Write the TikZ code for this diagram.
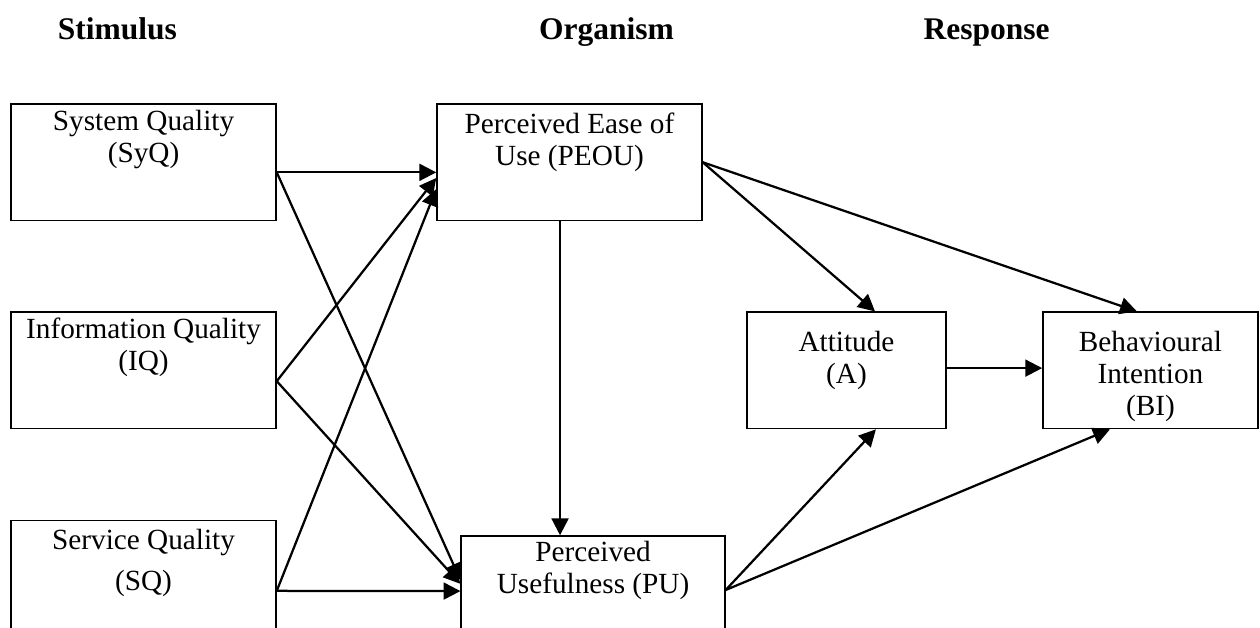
\documentclass[tikz,border=0pt]{standalone}
\usepackage{fontspec}
\setmainfont{Liberation Serif}
\usetikzlibrary{calc,positioning,arrows.meta}

\begin{document}
\begin{tikzpicture}[x=1pt,y=1pt,
    box/.style={draw=black, line width=0.6pt, minimum height=51.8pt, inner sep=0pt},
    boxtext/.style={align=center, inner sep=0pt, font=\fontsize{13}{14.3}\selectfont},
    head/.style={anchor=base, font=\fontsize{14}{16}\selectfont\bfseries},
    arr/.style={draw=black, line width=1pt, -{Triangle[length=7.5pt,width=7.5pt]}}]
            %刺激—有機體—反應 (S-O-R) 模型
            \useasboundingbox (0,0) rectangle (560,-279.1);

            \node[head] (StimHead) at (52.2,-17.5) {Stimulus};
            \node[head] (OrgHead) at (269.6,-17.5) {Organism};
            \node[head] (RespHead) at (438.5,-17.5) {Response};

            \node[box, minimum width=117.8pt] (SysQ) at (63.8,-72.1) {};
            \node[box, minimum width=117.8pt] (InfoQ) at (63.8,-164.6) {};
            \node[box, minimum width=117.8pt] (ServQ) at (63.8,-257.2) {};
            \node[box, minimum width=117.8pt] (EaseUse) at (253.1,-72.1) {};
            \node[box, minimum width=117.3pt] (Useful) at (263.6,-264.1) {};
            \node[box, minimum width=88.4pt] (Att) at (376.2,-164.6) {};
            \node[box, minimum width=95.6pt] (Intent) at (511.3,-164.6) {};

            \node[boxtext, below=2.7pt of SysQ.north] (SysQText) {System Quality\\(SyQ)};
            \node[boxtext, below=2.7pt of InfoQ.north] (InfoQText) {Information Quality\\(IQ)};
            \node[boxtext, below=3.8pt of ServQ.north] (ServQText) {Service Quality\\[4pt](SQ)};
            \node[boxtext, below=4pt of EaseUse.north] (EaseUseText) {Perceived Ease of\\Use (PEOU)};
            \node[boxtext, below=2.5pt of Useful.north] (UsefulText) {Perceived\\Usefulness (PU)};
            \node[boxtext, below=8.4pt of Att.north] (AttText) {Attitude\\(A)};
            \node[boxtext, below=8.4pt of Intent.north] (IntentText) {Behavioural\\Intention\\(BI)};

            \coordinate (SysQOut) at ($(SysQ.east)+(0,-4.5)$);
            \coordinate (InfoQOut) at ($(InfoQ.east)+(0,-4.8)$);
            \coordinate (ServQOut) at ($(ServQ.east)+(0,-5.4)$);
            \coordinate (UsefulOut) at ($(Useful.east)+(0,1.9)$);
            \coordinate (DownPt) at ($(EaseUse.south)+(-4.2,0)$);

            \draw[arr] (SysQOut) -- ($(EaseUse.west)+(0,-4.5)$);
            \draw[arr] (SysQOut) -- ($(Useful.west)+(0,6.3)$);
            \draw[arr] (InfoQOut) -- ($(EaseUse.west)+(0,-7)$);
            \draw[arr] (InfoQOut) -- ($(Useful.west)+(0,4.6)$);
            \draw[arr] (ServQOut) -- ($(EaseUse.west)+(0,-11.9)$);
            \draw[arr] (ServQOut) -- ($(Useful.west)+(0,1.4)$);

            \draw[arr] (DownPt) -- (DownPt |- Useful.north);
            \draw[arr] (EaseUse.east) -- ($(Att.north)+(12.7,0)$);
            \draw[arr] (EaseUse.east) -- ($(Intent.north)+(-6,0)$);
            \draw[arr] ($(Att.east)+(0,1)$) -- ($(Intent.west)+(0,1)$);
            \draw[arr] (UsefulOut) -- ($(Att.south)+(13.1,0)$);
            \draw[arr] (UsefulOut) -- ($(Intent.south)+(-18,0)$);
            \end{tikzpicture}
\end{document}
